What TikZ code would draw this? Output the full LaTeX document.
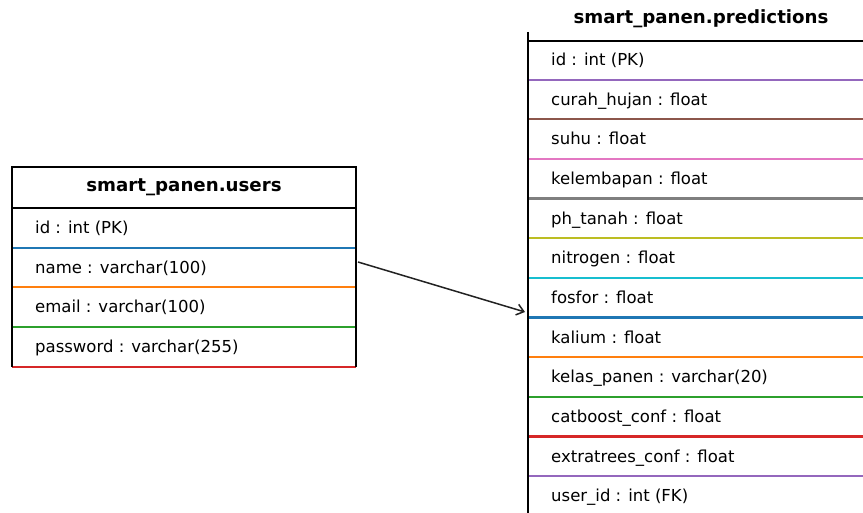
\documentclass[tikz,border=0pt]{standalone}
\usepackage{fontspec}
\setmainfont{DejaVu Sans}
\usetikzlibrary{arrows.meta}
% matplotlib "tab10" palette
\definecolor{tabblue}{HTML}{1F77B4}
\definecolor{taborange}{HTML}{FF7F0E}
\definecolor{tabgreen}{HTML}{2CA02C}
\definecolor{tabred}{HTML}{D62728}
\definecolor{tabpurple}{HTML}{9467BD}
\definecolor{tabbrown}{HTML}{8C564B}
\definecolor{tabpink}{HTML}{E377C2}
\definecolor{tabgray}{HTML}{7F7F7F}
\definecolor{tabolive}{HTML}{BCBD22}
\definecolor{tabcyan}{HTML}{17BECF}
\definecolor{linkgray}{HTML}{222222}
\begin{document}
\begin{tikzpicture}[x=1pt,y=-1pt,
  field/.style={anchor=base west, inner sep=0pt, font=\fontsize{16.5}{19}\selectfont},
  tabletitle/.style={inner sep=0pt, font=\bfseries\fontsize{18.2}{21}\selectfont},
  frame/.style={line width=2.5pt, black},
  rowsep/.style={line width=2.2pt},
  link/.style={line width=1.5pt, linkgray, -{Straight Barb[length=7pt,width=11pt]}}]
\useasboundingbox (0,0) rectangle (863,513);
\begin{scope}
\clip (0,0) rectangle (863,513);

% ---------- table smart_panen.users ----------
\node[tabletitle] (users) at (184,187) {smart\_panen.users};
\foreach \i/\c in {1/tabblue,2/taborange,3/tabgreen,4/tabred}
  \draw[rowsep,\c] (12,{208+39.67*\i}) -- (356,{208+39.67*\i});
\draw[frame] (12,366.7) -- (12,167) -- (356,167) -- (356,366.7);
\draw[frame] (12,208) -- (356,208);
\foreach \n/\t [count=\k from 0] in {uid/{id : int (PK)},
    uname/{name : varchar(100)},
    uemail/{email : varchar(100)},
    upass/{password : varchar(255)}}
  \node[field] (\n) at (35,{208+39.67*\k+25.5}) {\t};

% ---------- table smart_panen.predictions ----------
\node[tabletitle] (predictions) at (701,19) {smart\_panen.predictions};
\foreach \i/\c in {1/tabpurple,2/tabbrown,3/tabpink,4/tabgray,5/tabolive,
    6/tabcyan,7/tabblue,8/taborange,9/tabgreen,10/tabred,11/tabpurple,12/tabbrown}
  \draw[rowsep,\c] (528,{40+39.65*\i}) -- (870,{40+39.65*\i});
\draw[frame] (528,32) -- (528,520);
\draw[frame] (528,41) -- (870,41);
\foreach \n/\t [count=\k from 0] in {pid/{id : int (PK)},
    pcurah/{curah\_hujan : float},
    psuhu/{suhu : float},
    plembap/{kelembapan : float},
    pph/{ph\_tanah : float},
    pnitro/{nitrogen : float},
    pfosfor/{fosfor : float},
    pkalium/{kalium : float},
    pkelas/{kelas\_panen : varchar(20)},
    pcat/{catboost\_conf : float},
    pextra/{extratrees\_conf : float},
    puser/{user\_id : int (FK)}}
  \node[field] (\n) at (551,{40+39.65*\k+25.5}) {\t};

% ---------- relation users -> predictions ----------
\coordinate (nameport) at (358,262);
\coordinate (fosforport) at (525,312);
\draw[link] (nameport) -- (fosforport);
\end{scope}
\end{tikzpicture}
\end{document}
